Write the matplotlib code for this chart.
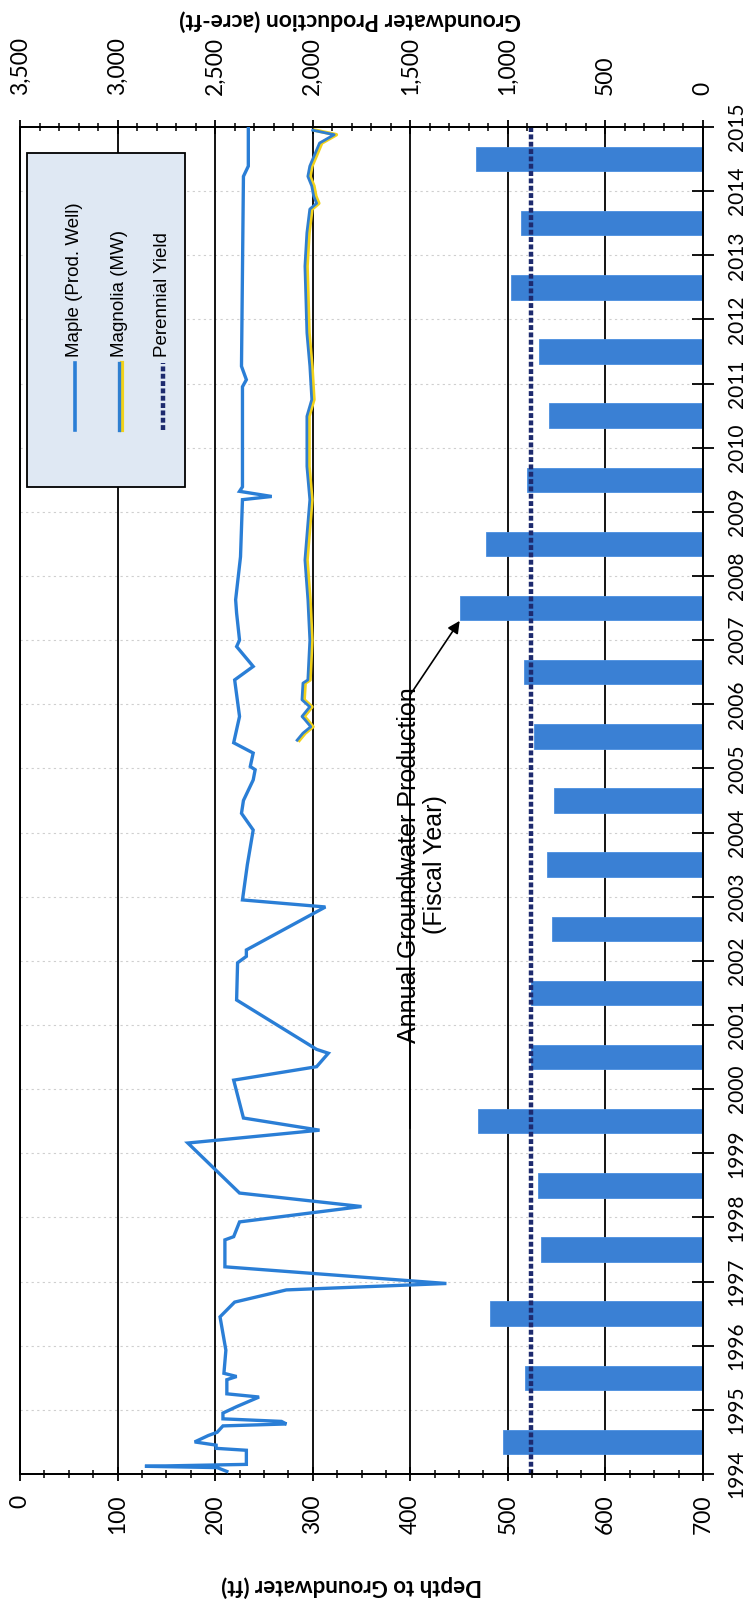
import matplotlib
matplotlib.use("Agg")
import matplotlib.pyplot as plt
from matplotlib.ticker import MultipleLocator, FixedLocator
from matplotlib.patches import Rectangle
from matplotlib.lines import Line2D

# ---------------- data ----------------
fiscal_years = list(range(1994, 2015))
production = [1027, 912, 1091, 828, 844, 1153, 881, 881, 776, 797, 765,
              865, 918, 1247, 1111, 902, 791, 839, 985, 933, 1164]
perennial_yield = 880

maple_t = [1994.04, 1994.10, 1994.12, 1994.15, 1994.37, 1994.40, 1994.45, 1994.50,
           1994.60, 1994.65, 1994.75, 1994.78, 1994.82, 1994.86, 1994.95, 1995.05,
           1995.20, 1995.25, 1995.47, 1995.52, 1995.57, 1995.93, 1996.45, 1996.68,
           1996.87, 1996.97, 1997.23, 1997.65, 1997.70, 1997.93, 1998.17, 1998.38,
           1999.16, 1999.36, 1999.55, 2000.14, 2000.35, 2000.56, 2000.62, 2001.39,
           2001.97, 2002.07, 2002.17, 2002.84, 2002.95, 2003.50, 2004.04, 2004.30,
           2004.50, 2004.82, 2004.98, 2005.03, 2005.24, 2005.40, 2005.81, 2006.38,
           2006.59, 2006.90, 2007.00, 2007.42, 2007.63, 2008.30, 2009.19, 2009.24,
           2009.32, 2009.39, 2010.95, 2011.06, 2011.27, 2014.23, 2014.39, 2015.00]
maple_d = [212, 202, 128, 232, 232, 201, 201, 179,
           193, 202, 208, 273, 268, 208, 208, 222,
           245, 212, 212, 222, 209, 211, 205, 220,
           273, 437, 210, 210, 219, 225, 350, 225,
           172, 307, 229, 219, 304, 316, 304, 222,
           223, 232, 232, 313, 228, 233, 239, 227,
           229, 239, 241, 236, 239, 219, 225, 220,
           239, 222, 225, 222, 221, 226, 228, 258,
           225, 228, 228, 232, 227, 229, 234, 234]

magnolia_t = [2005.44, 2005.55, 2005.65, 2005.76, 2005.81, 2005.96, 2006.07, 2006.33,
              2006.38, 2007.00, 2007.63, 2008.25, 2009.19, 2009.71, 2010.49, 2010.75,
              2011.27, 2011.79, 2012.83, 2013.35, 2013.72, 2013.81, 2013.92, 2014.08,
              2014.23, 2014.39, 2014.75, 2014.88, 2014.95]
magnolia_d = [284, 290, 298, 292, 289, 297, 289, 290,
              295, 297, 295, 292, 297, 294, 294, 299,
              297, 294, 292, 294, 297, 304, 301, 299,
              295, 297, 307, 322, 300]

depth_ticks = [0, 100, 200, 300, 400, 500, 600, 700]
prod_ticks = [0, 500, 1000, 1500, 2000, 2500, 3000, 3500]
year_ticks = list(range(1994, 2016))

# ---------------- figure ----------------
W, H = 746, 1602
fig = plt.figure(figsize=(W / 100, H / 100), dpi=100)
fig.patch.set_facecolor("white")
L, R, T, B = 20, 703, 127, 1474
ax = fig.add_axes([L / W, (H - B) / H, (R - L) / W, (B - T) / H])
ax.set_xlim(0, 700)
ax.set_ylim(1994, 2015)
ax2 = ax.twiny()
ax2.set_xlim(3500, 0)

ax.set_zorder(3)
ax2.set_zorder(1)
ax.patch.set_visible(False)
ax2.patch.set_facecolor("white")

tick_font = "Lato"
for a in (ax, ax2):
    for s in a.spines.values():
        s.set_linewidth(1.3)
        s.set_color("black")

# bars (production) on the reversed production axis
bar_centres = [y + 0.5 for y in fiscal_years]
ax2.barh(bar_centres, production, height=0.38, left=0, color="#3a80d4",
         edgecolor="#4a8ee0", linewidth=0.6, zorder=2)
ax2.axvline(perennial_yield, color="#1d2a6e", lw=3.2, dashes=(1.1, 0.55), zorder=4)

# vertical grid lines
ax2.xaxis.set_major_locator(FixedLocator(prod_ticks))
ax2.grid(axis="x", color="black", lw=1.3, zorder=0)
ax2.set_axisbelow(True)
for yv in year_ticks[1:-1]:
    ax2.axhline(yv, color="#cfcfcf", lw=0.8, ls=(0, (2, 3)), zorder=0.5)

# groundwater depth lines
ax.plot(maple_d, maple_t, color="#2a7ed6", lw=2.4, zorder=5, solid_joinstyle="miter")
ax.plot([d + 2.2 for d in magnolia_d], magnolia_t, color="#f2d21a", lw=2.6, zorder=5)
ax.plot(magnolia_d, magnolia_t, color="#2f7fd0", lw=2.0, zorder=6)

# ---------------- axes / ticks ----------------
ax.xaxis.set_major_locator(FixedLocator(depth_ticks))
ax.xaxis.set_minor_locator(MultipleLocator(25))
ax.xaxis.set_ticks_position("bottom")
ax.tick_params(axis="x", which="major", direction="inout", length=10, width=1.3,
               labelsize=16.5, pad=10, labelrotation=90)
ax.tick_params(axis="x", which="minor", direction="inout", length=6, width=1.1)
ax.set_xticklabels([str(v) for v in depth_ticks], fontfamily=tick_font)

ax.yaxis.set_major_locator(FixedLocator(year_ticks))
ax.yaxis.tick_right()
ax.tick_params(axis="y", which="major", direction="inout", length=16, width=1.3,
               labelsize=15, pad=9, labelrotation=90, left=False)
ax.set_yticklabels([str(y) for y in year_ticks], fontfamily=tick_font, va="center")

ax2.xaxis.set_minor_locator(MultipleLocator(100))
ax2.tick_params(axis="x", which="major", direction="inout", length=10, width=1.3,
                labelsize=16.5, pad=18, labelrotation=90)
ax2.tick_params(axis="x", which="minor", direction="inout", length=6, width=1.1)
ax2.set_xticklabels(["{:,}".format(v) for v in prod_ticks], fontfamily=tick_font)

# axis titles (upside-down because the chart is rotated)
fig.text(352 / W, 1 - 1586 / H, "Depth to Groundwater (ft)", rotation=180,
         ha="center", va="center", fontsize=16, fontweight="bold", fontfamily=tick_font)
fig.text(350 / W, 1 - 20 / H, "Groundwater Production (acre-ft)", rotation=180,
         ha="center", va="center", fontsize=16.5, fontweight="bold", fontfamily=tick_font)

# ---------------- legend (drawn rotated) ----------------
lt = ax.transAxes
ax.add_patch(Rectangle((0.01, 0.733), 0.232, 0.248, transform=lt, facecolor="#dfe8f3",
                       edgecolor="black", lw=1.3, zorder=7))
hy0, hy1 = 0.775, 0.825
ax.add_line(Line2D([0.0805, 0.0805], [hy0, hy1], transform=lt, color="#2a7ed6", lw=2.6, zorder=8))
ax.add_line(Line2D([0.149, 0.149], [hy0, hy1], transform=lt, color="#f2d21a", lw=3.0, zorder=8))
ax.add_line(Line2D([0.145, 0.145], [hy0, hy1], transform=lt, color="#2f7fd0", lw=2.4, zorder=8))
ax.add_line(Line2D([0.209, 0.209], [hy0, hy1], transform=lt, color="#1d2a6e", lw=3.2,
                   dashes=(1.1, 0.55), zorder=8))
for xl, lab in [(0.0805, "Maple (Prod. Well)"), (0.146, "Magnolia (MW)"),
                (0.209, "Perennial Yield")]:
    ax.text(xl, 0.829, lab, transform=lt, rotation=90, ha="center", va="bottom",
            fontsize=13.5, fontfamily="Liberation Sans", zorder=8)

# ---------------- annotation ----------------
ax.text(412, 2003.5, "Annual Groundwater Production\n(Fiscal Year)", rotation=90,
        ha="center", va="center", fontsize=18, fontfamily="Liberation Sans",
        multialignment="center", zorder=8, linespacing=1.15)
ax.plot([400, 400], [1999.4, 2006.15], color="black", lw=1.2, zorder=8)
i07 = fiscal_years.index(2007)
ax.annotate("", xy=(production[i07], 2007.3), xycoords=ax2.transData,
            xytext=(400, 2006.15), textcoords="data",
            arrowprops=dict(arrowstyle="-|>", color="black", lw=1.2,
                            mutation_scale=18, shrinkA=0, shrinkB=0), zorder=8)

fig.savefig("out.png", dpi=100, facecolor="white")
